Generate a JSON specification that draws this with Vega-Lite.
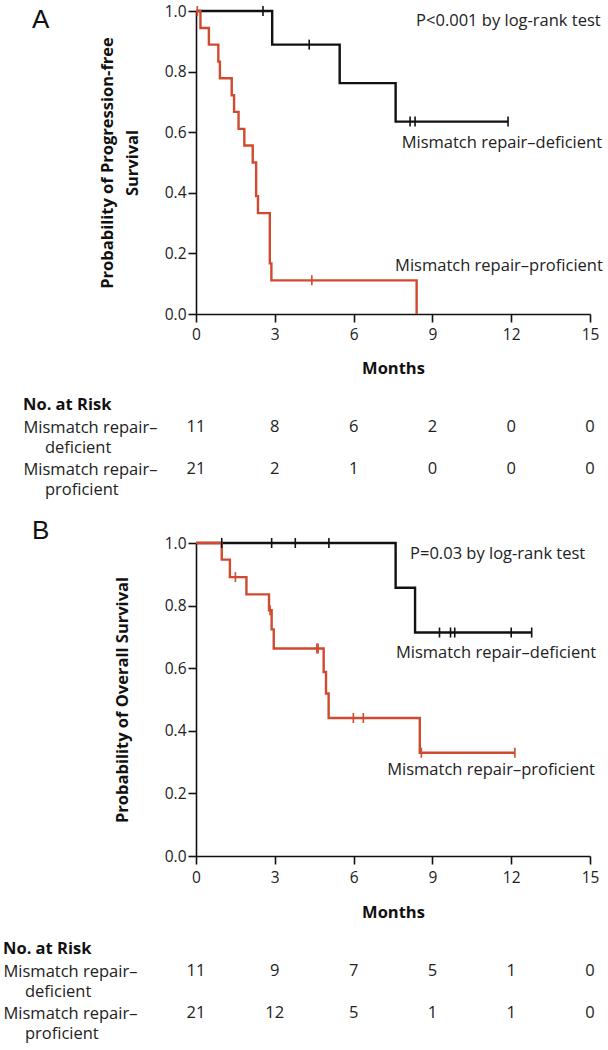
{
  "$schema": "https://vega.github.io/schema/vega-lite/v6.json",
  "padding": {"left": 3, "top": 2, "right": 2, "bottom": 2},
  "spacing": 19,
  "config": {
    "view": {"stroke": null},
    "font": "Open Sans",
    "axis": {
      "grid": false, "domainColor": "#111", "domainWidth": 1.6, "tickColor": "#111", "tickWidth": 1.6, "tickSize": 8,
      "labelColor": "#222", "labelFontSize": 15.5, "labelFont": "Open Sans",
      "titleColor": "#111", "titleFontSize": 16.5, "titleFontWeight": "bold", "titleFont": "Open Sans"
    }
  },
  "datasets": {
    "kmA": [
      {"group": "deficient", "t": 0, "s": 1},
      {"group": "deficient", "t": 2.9, "s": 0.889},
      {"group": "deficient", "t": 5.47, "s": 0.762},
      {"group": "deficient", "t": 7.6, "s": 0.635},
      {"group": "deficient", "t": 11.88, "s": 0.635},
      {"group": "proficient", "t": 0, "s": 1},
      {"group": "proficient", "t": 0.17, "s": 0.944},
      {"group": "proficient", "t": 0.49, "s": 0.889},
      {"group": "proficient", "t": 0.85, "s": 0.833},
      {"group": "proficient", "t": 0.91, "s": 0.778},
      {"group": "proficient", "t": 1.36, "s": 0.722},
      {"group": "proficient", "t": 1.45, "s": 0.667},
      {"group": "proficient", "t": 1.62, "s": 0.611},
      {"group": "proficient", "t": 1.84, "s": 0.556},
      {"group": "proficient", "t": 2.16, "s": 0.5},
      {"group": "proficient", "t": 2.29, "s": 0.389},
      {"group": "proficient", "t": 2.36, "s": 0.333},
      {"group": "proficient", "t": 2.81, "s": 0.167},
      {"group": "proficient", "t": 2.87, "s": 0.111},
      {"group": "proficient", "t": 8.4, "s": 0}
    ],
    "censA": [
      {"group": "deficient", "t": 2.55, "s": 1},
      {"group": "deficient", "t": 4.31, "s": 0.889},
      {"group": "deficient", "t": 8.15, "s": 0.635},
      {"group": "deficient", "t": 8.34, "s": 0.635},
      {"group": "deficient", "t": 11.88, "s": 0.635},
      {"group": "proficient", "t": 0.05, "s": 1},
      {"group": "proficient", "t": 4.41, "s": 0.111}
    ],
    "notesA": [
      {"t": 8.38, "s": 0.967, "label": "P<0.001 by log-rank test"},
      {"t": 7.83, "s": 0.565, "label": "Mismatch repair–deficient"},
      {"t": 7.58, "s": 0.158, "label": "Mismatch repair–proficient"}
    ],
    "riskA": [
      {"group": "deficient", "t": 0, "n": 11},
      {"group": "deficient", "t": 3, "n": 8},
      {"group": "deficient", "t": 6, "n": 6},
      {"group": "deficient", "t": 9, "n": 2},
      {"group": "deficient", "t": 12, "n": 0},
      {"group": "deficient", "t": 15, "n": 0},
      {"group": "proficient", "t": 0, "n": 21},
      {"group": "proficient", "t": 3, "n": 2},
      {"group": "proficient", "t": 6, "n": 1},
      {"group": "proficient", "t": 9, "n": 0},
      {"group": "proficient", "t": 12, "n": 0},
      {"group": "proficient", "t": 15, "n": 0}
    ],
    "kmB": [
      {"group": "deficient", "t": 0, "s": 1},
      {"group": "deficient", "t": 7.6, "s": 0.857},
      {"group": "deficient", "t": 8.34, "s": 0.714},
      {"group": "deficient", "t": 12.78, "s": 0.714},
      {"group": "proficient", "t": 0, "s": 1},
      {"group": "proficient", "t": 0.98, "s": 0.947},
      {"group": "proficient", "t": 1.29, "s": 0.891},
      {"group": "proficient", "t": 1.92, "s": 0.836},
      {"group": "proficient", "t": 2.78, "s": 0.785},
      {"group": "proficient", "t": 2.88, "s": 0.724},
      {"group": "proficient", "t": 2.96, "s": 0.663},
      {"group": "proficient", "t": 4.86, "s": 0.588},
      {"group": "proficient", "t": 4.95, "s": 0.519},
      {"group": "proficient", "t": 5.05, "s": 0.441},
      {"group": "proficient", "t": 8.52, "s": 0.33},
      {"group": "proficient", "t": 12.14, "s": 0.33}
    ],
    "censB": [
      {"group": "deficient", "t": 0.98, "s": 1},
      {"group": "deficient", "t": 2.88, "s": 1},
      {"group": "deficient", "t": 3.78, "s": 1},
      {"group": "deficient", "t": 5.06, "s": 1},
      {"group": "deficient", "t": 9.27, "s": 0.714},
      {"group": "deficient", "t": 9.69, "s": 0.714},
      {"group": "deficient", "t": 9.85, "s": 0.714},
      {"group": "deficient", "t": 12.0, "s": 0.714},
      {"group": "deficient", "t": 12.78, "s": 0.714},
      {"group": "proficient", "t": 1.5, "s": 0.891},
      {"group": "proficient", "t": 2.82, "s": 0.785},
      {"group": "proficient", "t": 4.6, "s": 0.663},
      {"group": "proficient", "t": 4.65, "s": 0.663},
      {"group": "proficient", "t": 5.99, "s": 0.441},
      {"group": "proficient", "t": 6.37, "s": 0.441},
      {"group": "proficient", "t": 8.58, "s": 0.33},
      {"group": "proficient", "t": 12.14, "s": 0.33}
    ],
    "notesB": [
      {"t": 8.15, "s": 0.966, "label": "P=0.03 by log-rank test"},
      {"t": 7.61, "s": 0.647, "label": "Mismatch repair–deficient"},
      {"t": 7.28, "s": 0.275, "label": "Mismatch repair–proficient"}
    ],
    "riskB": [
      {"group": "deficient", "t": 0, "n": 11},
      {"group": "deficient", "t": 3, "n": 9},
      {"group": "deficient", "t": 6, "n": 7},
      {"group": "deficient", "t": 9, "n": 5},
      {"group": "deficient", "t": 12, "n": 1},
      {"group": "deficient", "t": 15, "n": 0},
      {"group": "proficient", "t": 0, "n": 21},
      {"group": "proficient", "t": 3, "n": 12},
      {"group": "proficient", "t": 6, "n": 5},
      {"group": "proficient", "t": 9, "n": 1},
      {"group": "proficient", "t": 12, "n": 1},
      {"group": "proficient", "t": 15, "n": 0}
    ]
  },
  "vconcat": [
    {
      "width": 394, "height": 303,
      "title": {"text": "A", "anchor": "start", "frame": "group", "dx": -164, "offset": -30, "baseline": "top", "fontSize": 26, "fontWeight": "normal", "font": "Liberation Sans", "color": "#111"},
      "encoding": {
        "x": {"field": "t", "type": "quantitative", "scale": {"domain": [0, 15], "nice": false},
              "axis": {"values": [0, 3, 6, 9, 12, 15], "format": "d", "title": "Months", "labelPadding": 5, "titlePadding": 18, "labelFlush": false, "labelOverlap": false}},
        "y": {"field": "s", "type": "quantitative", "scale": {"domain": [0, 1], "nice": false},
              "axis": {"values": [0, 0.2, 0.4, 0.6, 0.8, 1], "format": ".1f", "title": ["Probability of Progression-free", "Survival"], "titleLineHeight": 25, "titlePadding": 24, "labelPadding": 2, "labelFlush": false, "labelOverlap": false}}
      },
      "layer": [
        {"data": {"name": "kmA"}, "transform": [{"filter": "datum.group == 'deficient'"}], "mark": {"type": "line", "interpolate": "step-after", "color": "#111", "strokeWidth": 2.4}},
        {"data": {"name": "kmA"}, "transform": [{"filter": "datum.group == 'proficient'"}], "mark": {"type": "line", "interpolate": "step-after", "color": "#cf4a2f", "strokeWidth": 2.4}},
        {"data": {"name": "censA"}, "transform": [{"filter": "datum.group == 'deficient'"}], "mark": {"type": "point", "shape": "M0,-1V1", "size": 100, "filled": false, "color": "#111", "strokeWidth": 1.6, "opacity": 1}},
        {"data": {"name": "censA"}, "transform": [{"filter": "datum.group == 'proficient'"}], "mark": {"type": "point", "shape": "M0,-1V1", "size": 100, "filled": false, "color": "#cf4a2f", "strokeWidth": 1.6, "opacity": 1}},
        {"data": {"name": "notesA"}, "mark": {"type": "text", "align": "left", "baseline": "middle", "fontSize": 16.5, "color": "#222"}, "encoding": {"text": {"field": "label", "type": "nominal"}}}
      ]
    },
    {
      "width": 394, "height": 42,
      "data": {"name": "riskA"},
      "title": {"text": "No. at Risk", "anchor": "start", "frame": "group", "dx": -173, "offset": 6, "baseline": "top", "fontSize": 16.5, "fontWeight": "bold", "color": "#111"},
      "mark": {"type": "text", "baseline": "top", "fontSize": 16.5, "color": "#222"},
      "encoding": {
        "x": {"field": "t", "type": "quantitative", "scale": {"domain": [0, 15], "nice": false}, "axis": null},
        "y": {"field": "group", "type": "nominal", "scale": {"type": "point", "padding": 0, "domain": ["deficient", "proficient"]},
              "axis": {"title": null, "domain": false, "ticks": false, "tickSize": 0, "labelAlign": "left", "labelBaseline": "top", "labelPadding": 173, "labelFontSize": 16.5, "labelLineHeight": 20, "labelColor": "#222",
                       "labelExpr": "datum.value == 'deficient' ? ['Mismatch repair–', '\u200b\u00a0\u00a0\u00a0\u00a0\u00a0deficient'] : ['Mismatch repair–', '\u200b\u00a0\u00a0\u00a0\u00a0\u00a0proficient']"}},
        "text": {"field": "n", "type": "quantitative"}
      }
    },
    {
      "width": 394, "height": 313,
      "title": {"text": "B", "anchor": "start", "frame": "group", "dx": -164, "offset": -9, "baseline": "top", "fontSize": 26, "fontWeight": "normal", "font": "Liberation Sans", "color": "#111"},
      "encoding": {
        "x": {"field": "t", "type": "quantitative", "scale": {"domain": [0, 15], "nice": false},
              "axis": {"values": [0, 3, 6, 9, 12, 15], "format": "d", "title": "Months", "labelPadding": 6, "titlePadding": 19, "labelFlush": false, "labelOverlap": false}},
        "y": {"field": "s", "type": "quantitative", "scale": {"domain": [0, 1], "nice": false},
              "axis": {"values": [0, 0.2, 0.4, 0.6, 0.8, 1], "format": ".1f", "title": "Probability of Overall Survival", "titlePadding": 34, "labelPadding": 2, "labelFlush": false, "labelOverlap": false}}
      },
      "layer": [
        {"data": {"name": "kmB"}, "transform": [{"filter": "datum.group == 'deficient'"}], "mark": {"type": "line", "interpolate": "step-after", "color": "#111", "strokeWidth": 2.4}},
        {"data": {"name": "kmB"}, "transform": [{"filter": "datum.group == 'proficient'"}], "mark": {"type": "line", "interpolate": "step-after", "color": "#cf4a2f", "strokeWidth": 2.4}},
        {"data": {"name": "censB"}, "transform": [{"filter": "datum.group == 'deficient'"}], "mark": {"type": "point", "shape": "M0,-1V1", "size": 100, "filled": false, "color": "#111", "strokeWidth": 1.6, "opacity": 1}},
        {"data": {"name": "censB"}, "transform": [{"filter": "datum.group == 'proficient'"}], "mark": {"type": "point", "shape": "M0,-1V1", "size": 100, "filled": false, "color": "#cf4a2f", "strokeWidth": 1.6, "opacity": 1}},
        {"data": {"name": "notesB"}, "mark": {"type": "text", "align": "left", "baseline": "middle", "fontSize": 16.5, "color": "#222"}, "encoding": {"text": {"field": "label", "type": "nominal"}}}
      ]
    },
    {
      "width": 394, "height": 42,
      "data": {"name": "riskB"},
      "title": {"text": "No. at Risk", "anchor": "start", "frame": "group", "dx": -193, "offset": 6, "baseline": "top", "fontSize": 16.5, "fontWeight": "bold", "color": "#111"},
      "mark": {"type": "text", "baseline": "top", "fontSize": 16.5, "color": "#222"},
      "encoding": {
        "x": {"field": "t", "type": "quantitative", "scale": {"domain": [0, 15], "nice": false}, "axis": null},
        "y": {"field": "group", "type": "nominal", "scale": {"type": "point", "padding": 0, "domain": ["deficient", "proficient"]},
              "axis": {"title": null, "domain": false, "ticks": false, "tickSize": 0, "labelAlign": "left", "labelBaseline": "top", "labelPadding": 193, "labelFontSize": 16.5, "labelLineHeight": 20, "labelColor": "#222",
                       "labelExpr": "datum.value == 'deficient' ? ['Mismatch repair–', '\u200b\u00a0\u00a0\u00a0\u00a0\u00a0deficient'] : ['Mismatch repair–', '\u200b\u00a0\u00a0\u00a0\u00a0\u00a0proficient']"}},
        "text": {"field": "n", "type": "quantitative"}
      }
    }
  ]
}
